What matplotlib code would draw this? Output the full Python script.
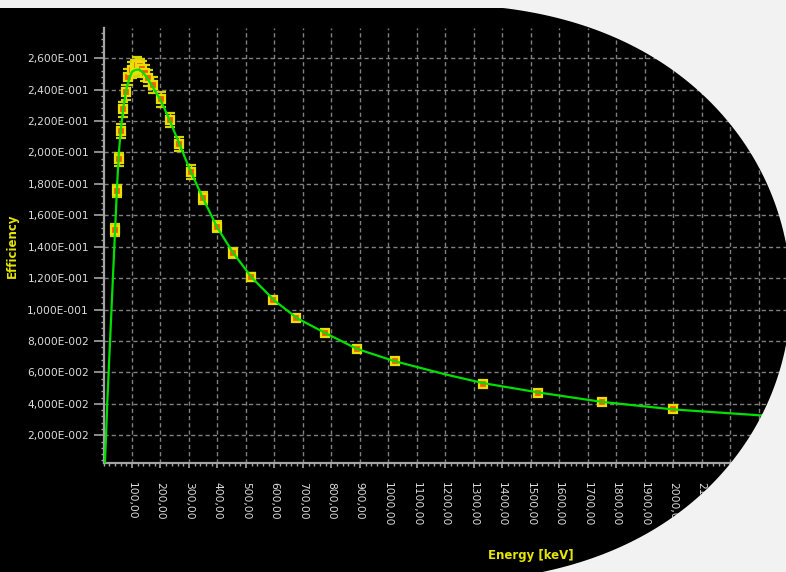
import numpy as np
import matplotlib
matplotlib.use('Agg')
import matplotlib.pyplot as plt
from matplotlib.patches import Polygon
from matplotlib.ticker import MultipleLocator

# measured calibration points: energy [keV], efficiency, uncertainty
energy = [40, 46, 53, 61, 69, 78, 87, 99, 110, 116, 128, 134, 145, 157, 175,
          201, 233, 265, 306, 348, 397, 455, 519, 595, 677, 779, 890, 1022,
          1334, 1527, 1751, 2000]
eff = [0.1506, 0.1755, 0.1957, 0.2137, 0.2275, 0.2384, 0.2480, 0.2526, 0.2539,
       0.2558, 0.2547, 0.2530, 0.2505, 0.2473, 0.2430, 0.2339, 0.2207, 0.2053,
       0.1878, 0.1709, 0.1528, 0.1362, 0.1206, 0.1061, 0.0947, 0.0851, 0.0747,
       0.0671, 0.0528, 0.0468, 0.0410, 0.0367]
err = [0.0040, 0.0040, 0.0042, 0.0045, 0.0047, 0.0048, 0.0050, 0.0050, 0.0050,
       0.0052, 0.0050, 0.0050, 0.0050, 0.0050, 0.0050, 0.0048, 0.0046, 0.0045,
       0.0045, 0.0040, 0.0037, 0.0032, 0.0026, 0.0022, 0.0020, 0.0018, 0.0016,
       0.0015, 0.0012, 0.0011, 0.0010, 0.0009]

# fitted efficiency curve
fit_e = [5, 9, 13, 18, 23, 28, 33, 38, 43, 48, 54, 61, 70, 80, 90, 100, 110,
         122, 130, 145, 160, 180, 200, 230, 265, 300, 350, 400, 455, 520, 600,
         680, 780, 890, 1020, 1200, 1334, 1530, 1750, 2000, 2300, 2600, 3000]
fit_eff = [0.0026, 0.02, 0.04, 0.06, 0.08, 0.10, 0.12, 0.14, 0.16, 0.18, 0.20,
           0.215, 0.229, 0.240, 0.247, 0.2512, 0.2524, 0.2527, 0.2522, 0.2495,
           0.2455, 0.2395, 0.2335, 0.2215, 0.2060, 0.1905, 0.1705, 0.1520,
           0.1362, 0.1205, 0.1058, 0.0945, 0.0850, 0.0750, 0.0673, 0.0588,
           0.0532, 0.0472, 0.0413, 0.0365, 0.0328, 0.0300, 0.0270]

yticks = [0.02, 0.04, 0.06, 0.08, 0.10, 0.12, 0.14, 0.16, 0.18, 0.20, 0.22, 0.24, 0.26]
ylabels = ['2,000E-002', '4,000E-002', '6,000E-002', '8,000E-002', '1,000E-001',
           '1,200E-001', '1,400E-001', '1,600E-001', '1,800E-001', '2,000E-001',
           '2,200E-001', '2,400E-001', '2,600E-001']
xticks = list(range(100, 3000, 100))
# labels past 2100 fall under the cut-away corner
xlabels = [f'{v},00' if v <= 2100 else '' for v in xticks]

W, H = 786, 572
plt.rcParams['font.family'] = ['DejaVu Sans']
fig = plt.figure(figsize=(W / 100, H / 100), dpi=100, facecolor='black')

# axes in pixels: left 103.5, right 958 (runs past the cut), top 28.3, bottom 462.7
ax = fig.add_axes([103.5 / W, 1 - 462.7 / H, (958 - 103.5) / W, (462.7 - 28.3) / H])
ax.set_facecolor('black')
ax.set_xlim(0, 3000)
ax.set_ylim(0.0026, 0.279)

for s in ['top', 'right']:
    ax.spines[s].set_visible(False)
for s in ['left', 'bottom']:
    ax.spines[s].set_color('#a4a4a4')
    ax.spines[s].set_linewidth(1.6)

ax.set_yticks(yticks)
ax.set_yticklabels(ylabels)
ax.set_xticks(xticks)
ax.set_xticklabels(xlabels, rotation=-90)
ax.xaxis.set_minor_locator(MultipleLocator(20))
ax.yaxis.set_minor_locator(MultipleLocator(0.004))

ax.tick_params(axis='y', which='major', length=7.2, width=1.2, pad=3.2,
               color='#a4a4a4', labelcolor='#dcdcdc', labelsize=7.7)
ax.tick_params(axis='y', which='minor', length=2.5, width=1, color='#a4a4a4')
ax.tick_params(axis='x', which='major', length=3.6, width=1.2, pad=10,
               color='#a4a4a4', labelcolor='#dcdcdc', labelsize=7.7)
ax.tick_params(axis='x', which='minor', length=2, width=1, color='#a4a4a4')

ax.grid(True, which='major', color='#808080', linewidth=1, linestyle=(0, (3, 2.2)))
ax.set_axisbelow(True)

ax.errorbar(energy, eff, yerr=err, fmt='s', markersize=5.5,
            markerfacecolor='#ff5a00', markeredgecolor='#e8e000', markeredgewidth=1.6,
            ecolor='#d8d400', elinewidth=1, capsize=3.5, capthick=1, zorder=3)
ax.plot(fit_e, fit_eff, color='#00e000', linewidth=1.6, zorder=4)

ax.set_xlabel('Energy [keV]', color='#e5e500', fontsize=8.5, fontweight='bold', va='center')
ax.xaxis.set_label_coords(0.5, -(555 - 462.7) / (462.7 - 28.3))
ax.set_ylabel('Efficiency', color='#e5e500', fontsize=8.5, fontweight='bold', va='center')
ax.yaxis.set_label_coords((12.7 - 103.5) / (958 - 103.5), 0.5)

# light frame with a rounded right edge: radius around (480, 300) smoothed
# through points read off the edge (pixel coords, y down)
edge_x = np.array([503, 543, 577, 610, 643, 673, 700, 727, 749, 767, 776, 783,
                   786, 782, 763, 752, 741, 730, 710, 690, 663, 630, 597, 563, 543], float)
edge_y = np.array([8.5, 13.5, 23.5, 37, 51, 70, 90, 120, 151, 183, 205, 250,
                   330, 383, 417, 433, 450, 462, 483, 503, 523, 543, 557, 567, 572], float)
cx, cy = 480.0, 300.0
th = np.arctan2(edge_y - cy, edge_x - cx)
rr = np.hypot(edge_x - cx, edge_y - cy)
coef = np.polyfit(th, rr, 4)
tt = np.linspace(np.radians(82), np.radians(-94), 400)
rt = np.polyval(coef, tt)
xs = cx + rt * np.cos(tt)
ys = np.maximum(cy + rt * np.sin(tt), 8)

outline = [(-2, -2), (W + 2, -2), (W + 2, H + 40)]
outline += list(zip(xs, ys))
outline += [(-2, 8)]
frac = [(x / W, 1 - y / H) for x, y in outline]
fig.add_artist(Polygon(frac, closed=True, transform=fig.transFigure,
                       facecolor='#f1f2f1', edgecolor='none', zorder=10))

fig.savefig('out.png', dpi=100, facecolor='black')
